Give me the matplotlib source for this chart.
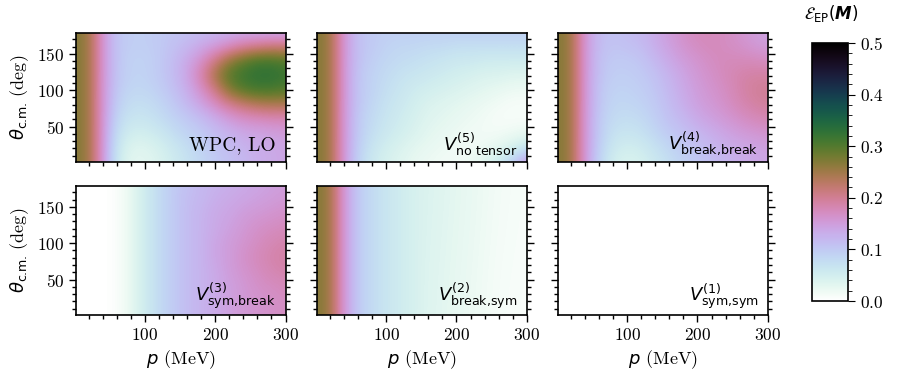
import numpy as np
import matplotlib
matplotlib.use("Agg")
from matplotlib import pyplot as plt
from matplotlib.ticker import MultipleLocator

plt.rcParams["font.family"] = "cmr10"
plt.rcParams["axes.formatter.use_mathtext"] = True
plt.rcParams["mathtext.fontset"] = "dejavusans"
plt.rcParams["font.size"] = 12

# grid of the maps: p (MeV) and theta_cm (deg)
p_grid = [0, 20, 40, 60, 80, 100, 120, 140, 160, 180, 200, 220, 240, 260, 280, 300]
theta_grid = [0, 20, 40, 60, 80, 100, 120, 140, 160, 180]
theta_flat = [0, 180]

# E_EP(M), one row per theta value
wpc_lo = [
    [.27, .255, .155, .06, .03, .03, .04, .055, .07, .085, .10, .11, .12, .13, .135, .14],
    [.27, .255, .155, .065, .035, .035, .045, .06, .075, .09, .105, .115, .125, .13, .135, .14],
    [.27, .255, .155, .075, .05, .05, .06, .075, .09, .10, .115, .125, .135, .14, .145, .15],
    [.27, .255, .155, .085, .065, .065, .075, .09, .10, .115, .13, .15, .165, .17, .175, .175],
    [.27, .255, .155, .095, .075, .075, .085, .10, .12, .14, .17, .20, .22, .235, .24, .24],
    [.27, .255, .155, .10, .085, .085, .095, .11, .13, .165, .21, .27, .30, .31, .31, .30],
    [.27, .255, .155, .105, .09, .09, .10, .115, .14, .185, .25, .30, .32, .33, .33, .32],
    [.27, .255, .155, .105, .09, .09, .10, .115, .135, .165, .21, .26, .29, .31, .31, .30],
    [.27, .255, .155, .105, .095, .095, .10, .11, .12, .135, .15, .17, .19, .20, .21, .21],
    [.27, .255, .155, .105, .095, .095, .10, .105, .11, .115, .12, .125, .13, .13, .13, .13],
]
v5_no_tensor = [
    [.27, .255, .155, .09, .06, .045, .035, .025, .02, .015, .015, .02, .035, .06, .10, .16],
    [.27, .255, .155, .095, .065, .05, .04, .03, .025, .02, .015, .015, .02, .03, .045, .07],
    [.27, .255, .155, .10, .075, .06, .05, .04, .03, .025, .02, .015, .015, .015, .02, .025],
    [.27, .255, .155, .10, .08, .065, .055, .045, .035, .03, .025, .02, .015, .01, .01, .01],
    [.27, .255, .155, .105, .085, .07, .06, .05, .04, .035, .03, .025, .02, .015, .01, .01],
    [.27, .255, .155, .105, .09, .075, .065, .055, .05, .045, .04, .035, .03, .025, .02, .02],
    [.27, .255, .155, .105, .09, .08, .07, .065, .06, .055, .05, .045, .04, .04, .035, .035],
    [.27, .255, .155, .11, .095, .085, .08, .075, .07, .065, .06, .06, .055, .055, .055, .055],
    [.27, .255, .155, .11, .10, .09, .085, .085, .08, .08, .075, .075, .075, .075, .075, .075],
    [.27, .255, .155, .11, .10, .095, .095, .095, .095, .095, .095, .095, .095, .095, .095, .095],
]
v4_break_break = [
    [.27, .255, .155, .09, .05, .04, .045, .06, .075, .09, .10, .11, .12, .13, .135, .14],
    [.27, .255, .155, .095, .06, .05, .055, .07, .085, .10, .11, .12, .13, .135, .14, .145],
    [.27, .255, .155, .10, .07, .065, .07, .085, .10, .11, .12, .13, .14, .15, .155, .16],
    [.27, .255, .155, .10, .08, .075, .08, .095, .11, .12, .135, .145, .155, .165, .175, .18],
    [.27, .255, .155, .105, .085, .085, .09, .10, .115, .13, .145, .155, .165, .18, .19, .195],
    [.27, .255, .155, .105, .09, .09, .095, .105, .12, .135, .15, .16, .17, .185, .195, .20],
    [.27, .255, .155, .11, .095, .095, .10, .11, .125, .14, .155, .165, .175, .185, .19, .19],
    [.27, .255, .155, .11, .10, .10, .105, .12, .135, .15, .16, .17, .175, .175, .175, .17],
    [.27, .255, .155, .115, .105, .11, .115, .13, .145, .16, .17, .175, .17, .165, .155, .15],
    [.27, .255, .155, .115, .11, .115, .12, .135, .15, .165, .175, .175, .17, .16, .15, .14],
]
v3_sym_break = [
    [0, 0, 0, .005, .025, .055, .08, .10, .115, .125, .135, .145, .155, .16, .165, .17],
    [0, 0, 0, .005, .025, .055, .08, .10, .115, .125, .135, .145, .155, .16, .165, .17],
    [0, 0, 0, .005, .025, .055, .08, .10, .115, .125, .135, .145, .155, .165, .17, .175],
    [0, 0, 0, .005, .025, .055, .08, .10, .115, .125, .135, .15, .16, .17, .18, .185],
    [0, 0, 0, .005, .025, .055, .08, .10, .115, .125, .14, .15, .165, .175, .185, .19],
    [0, 0, 0, .005, .025, .055, .08, .10, .115, .125, .14, .15, .16, .17, .18, .185],
    [0, 0, 0, .005, .025, .055, .08, .10, .115, .125, .135, .145, .155, .165, .17, .175],
    [0, 0, 0, .005, .025, .055, .08, .10, .115, .125, .135, .14, .15, .155, .16, .165],
    [0, 0, 0, .005, .025, .055, .08, .10, .115, .12, .13, .135, .14, .145, .15, .155],
    [0, 0, 0, .005, .025, .055, .08, .10, .11, .12, .125, .13, .135, .14, .145, .15],
]
v2_break_sym = [
    [.27, .255, .155, .10, .08, .065, .055, .045, .035, .03, .025, .02, .015, .01, .008, .006],
    [.27, .255, .155, .10, .08, .065, .055, .045, .04, .035, .03, .025, .02, .015, .012, .01],
]
v1_sym_sym = [
    [0] * len(p_grid),
    [0] * len(p_grid),
]

panels = [
    (wpc_lo, theta_grid, "WPC, LO", False),
    (v5_no_tensor, theta_grid, r"$V^{(5)}_{\mathrm{no\ tensor}}$", True),
    (v4_break_break, theta_grid, r"$V^{(4)}_{\mathrm{break{,}break}}$", True),
    (v3_sym_break, theta_grid, r"$V^{(3)}_{\mathrm{sym{,}break}}$", True),
    (v2_break_sym, theta_flat, r"$V^{(2)}_{\mathrm{break{,}sym}}$", True),
    (v1_sym_sym, theta_flat, r"$V^{(1)}_{\mathrm{sym{,}sym}}$", True),
]

W, H = 897, 379
fig = plt.figure(figsize=(W / 100, H / 100), dpi=100)

lefts = [76, 317.3, 558.3]
tops = [32.7, 185.7]
aw, ah = 209.5, 129.5

for idx, (vals, thetas, label, is_math) in enumerate(panels):
    row, col = divmod(idx, 3)
    ax = fig.add_axes([lefts[col] / W, 1 - (tops[row] + ah) / H, aw / W, ah / H])
    z = np.array(vals, dtype=float)
    dp = p_grid[1] - p_grid[0]
    dth = thetas[1] - thetas[0]
    extent = [p_grid[0] - dp / 2, p_grid[-1] + dp / 2,
              thetas[0] - dth / 2, thetas[-1] + dth / 2]
    im = ax.imshow(z, origin="lower", extent=extent, aspect="auto",
                   interpolation="bicubic", cmap="cubehelix_r", vmin=0, vmax=0.5)
    ax.set_xlim(2, 300)
    ax.set_ylim(1, 179)
    ax.xaxis.set_major_locator(MultipleLocator(100))
    ax.xaxis.set_minor_locator(MultipleLocator(20))
    ax.yaxis.set_major_locator(MultipleLocator(50))
    ax.yaxis.set_minor_locator(MultipleLocator(10))
    ax.tick_params(which="both", direction="out", left=True, right=True,
                   bottom=True, top=False, labelsize=12.5)
    ax.tick_params(which="major", length=5, width=1)
    ax.tick_params(which="minor", length=3, width=1)
    for s in ax.spines.values():
        s.set_linewidth(1.2)
    if row == 1:
        ax.set_xlabel(r"$p$ (MeV)", fontsize=13)
    else:
        ax.tick_params(labelbottom=False)
    if col == 0:
        ax.set_ylabel(r"$\theta_{\text{c.m.}}$ (deg)", fontsize=13)
    else:
        ax.tick_params(labelleft=False)
    if is_math:
        ax.text(0.955, 0.03, label, transform=ax.transAxes, ha="right",
                va="bottom", fontsize=13)
    else:
        ax.text(0.955, 0.06, label, transform=ax.transAxes, ha="right",
                va="bottom", fontsize=14)

cax = fig.add_axes([812 / W, 1 - 301 / H, 36 / W, 258 / H])
cb = fig.colorbar(im, cax=cax)
cb.set_ticks([0, 0.1, 0.2, 0.3, 0.4, 0.5])
cb.ax.yaxis.set_minor_locator(MultipleLocator(0.02))
cb.ax.tick_params(which="both", direction="out", labelsize=12.5)
cb.ax.tick_params(which="major", length=5)
cb.ax.tick_params(which="minor", length=3)
cb.outline.set_linewidth(1.2)
fig.text(831 / W, 1 - 13 / H, r"$\mathcal{E}_{\rm EP}(\mathbfit{M})$",
         ha="center", va="center", fontsize=12)

fig.savefig("out.png", dpi=100)
